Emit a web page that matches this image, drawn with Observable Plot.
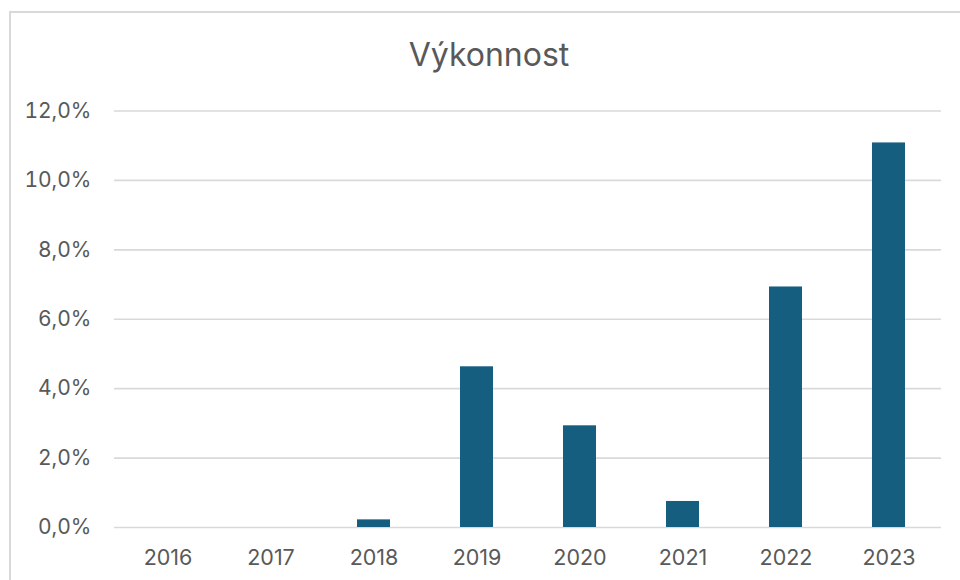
<!DOCTYPE html>
<html>
<head>
<meta charset="utf-8">
<script src="https://cdn.jsdelivr.net/npm/d3@7"></script>
<script src="https://cdn.jsdelivr.net/npm/@observablehq/plot@0.6"></script>
<style>
  html, body { margin: 0; padding: 0; background: #fff; }
  body { width: 960px; height: 580px; overflow: hidden; position: relative; font-family: Inter, "Noto Sans", sans-serif; }
  #frame { position: absolute; left: 9px; top: 11px; width: 1000px; height: 640px; border: 2px solid #d9d9d9; box-sizing: border-box; }
  #title { position: absolute; left: 0; top: 37px; width: 978px; text-align: center; font-size: 32px; line-height: 36px; color: #595959; font-weight: 400; }
  #chart { position: absolute; left: 0; top: 90px; }
</style>
</head>
<body>
<div id="frame"></div>
<div id="title">Výkonnost</div>
<div id="chart"></div>
<script>
const years = ["2016", "2017", "2018", "2019", "2020", "2021", "2022", "2023"];
const values = [0, 0, 0.22, 4.63, 2.93, 0.75, 6.93, 11.08];
const yTicks = [0, 2, 4, 6, 8, 10, 12];

const data = years.map((y, i) => ({year: y, value: values[i]}));
const fmt = v => v.toFixed(1).replace(".", ",") + "%";

const plot = Plot.plot({
  width: 960,
  height: 490,
  marginLeft: 114,
  marginRight: 19,
  marginTop: 20.5,
  marginBottom: 53,
  style: {fontFamily: "Inter, 'Noto Sans', sans-serif", fontSize: "21px", color: "#595959", background: "transparent"},
  x: {domain: years, paddingInner: 0.68, paddingOuter: 0.34, label: null},
  y: {domain: [0, 12], label: null},
  marks: [
    Plot.ruleY(yTicks, {stroke: "#d9d9d9", strokeWidth: 1.6}),
    Plot.barY(data, {x: "year", y: "value", fill: "#165e80"}),
    Plot.axisY(yTicks, {tickSize: 0, tickPadding: 23, tickFormat: fmt, fontSize: 21, fill: "#595959"}),
    Plot.axisX({tickSize: 0, tickPadding: 22, fontSize: 21.5, fill: "#595959"})
  ]
});
document.getElementById("chart").appendChild(plot);
</script>
</body>
</html>
